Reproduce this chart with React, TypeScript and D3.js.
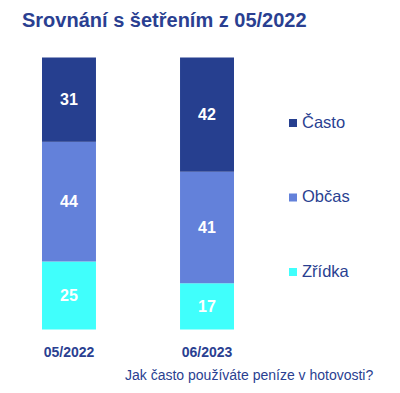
import React from 'react';
import * as d3 from 'd3';

const WIDTH = 400;
const HEIGHT = 393;

// data
const periods = ['05/2022', '06/2023'];
const casto = [31, 42];
const obcas = [44, 41];
const zridka = [25, 17];
const seriesNames = ['Často', 'Občas', 'Zřídka'];
const seriesColors = ['#263F8F', '#6381DA', '#40FFFC'];

const TITLE = 'Srovnání s šetřením z 05/2022';
const QUESTION = 'Jak často používáte peníze v hotovosti?';

const TEXT_DARK = '#2A3F91';
const FONT = '"Liberation Sans", Arial, sans-serif';

export default function App() {
    const rows = periods.map((p, i) => ({
        period: p,
        'Často': casto[i],
        'Občas': obcas[i],
        'Zřídka': zridka[i],
    }));

    // bottom to top
    const keys = ['Zřídka', 'Občas', 'Často'];
    const stacked = d3.stack<any>().keys(keys)(rows);

    const xScale = d3.scaleBand()
        .domain(periods)
        .range([42, 234])
        .paddingInner(0.609)
        .paddingOuter(0);

    const yScale = d3.scaleLinear()
        .domain([0, 100])
        .range([329.5, 57.5]);

    const color = d3.scaleOrdinal<string, string>()
        .domain(seriesNames)
        .range(seriesColors);

    const legendY = d3.scalePoint()
        .domain(seriesNames)
        .range([122, 271]);

    return (
        <svg
            width={WIDTH}
            height={HEIGHT}
            style={{ position: 'absolute', left: 0, top: 0, background: '#fff' }}
            fontFamily={FONT}
        >
            <text x={22} y={27} fontSize={20} fontWeight="bold" fill={TEXT_DARK}>
                {TITLE}
            </text>

            {stacked.map((layer) => (
                <g key={layer.key}>
                    {layer.map((d, i) => {
                        const x = xScale(periods[i]) as number;
                        const y0 = yScale(d[1]);
                        const y1 = yScale(d[0]);
                        return (
                            <g key={i}>
                                <rect
                                    x={x}
                                    y={y0}
                                    width={xScale.bandwidth()}
                                    height={y1 - y0}
                                    fill={color(layer.key)}
                                />
                                <text
                                    x={x + xScale.bandwidth() / 2}
                                    y={(y0 + y1) / 2}
                                    dy="0.35em"
                                    textAnchor="middle"
                                    fontSize={16}
                                    fontWeight="bold"
                                    fill="#fff"
                                >
                                    {d[1] - d[0]}
                                </text>
                            </g>
                        );
                    })}
                </g>
            ))}

            {periods.map((p) => (
                <text
                    key={p}
                    x={(xScale(p) as number) + xScale.bandwidth() / 2}
                    y={352}
                    dy="0.35em"
                    textAnchor="middle"
                    fontSize={14}
                    fontWeight="bold"
                    fill={TEXT_DARK}
                >
                    {p}
                </text>
            ))}

            {seriesNames.map((name) => (
                <g key={name} transform={`translate(289, ${legendY(name)})`}>
                    <rect x={0} y={-3} width={8} height={8} fill={color(name)} />
                    <text x={13} y={0} dy="0.35em" fontSize={16.5} fill={TEXT_DARK}>
                        {name}
                    </text>
                </g>
            ))}

            <text x={125} y={375} dy="0.35em" fontSize={14} fill={TEXT_DARK}>
                {QUESTION}
            </text>
        </svg>
    );
}
